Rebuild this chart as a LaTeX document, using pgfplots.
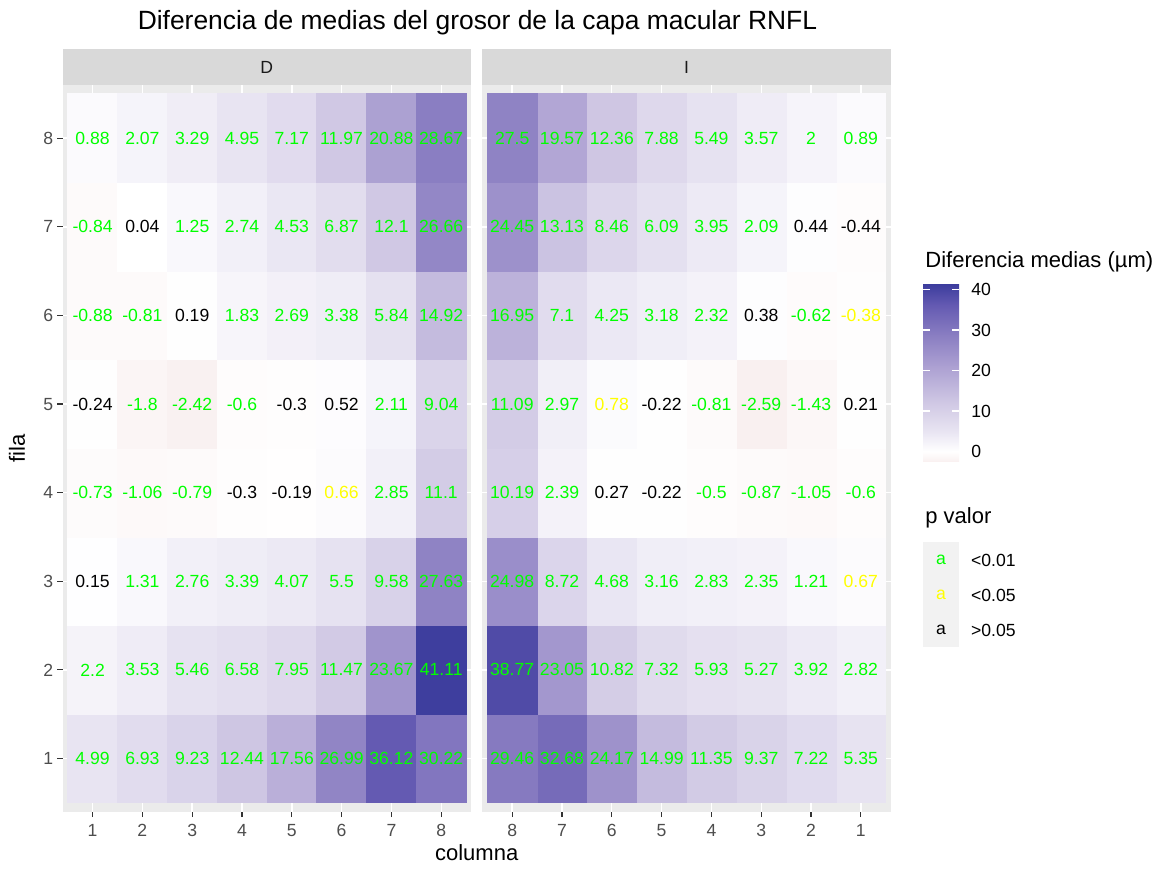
\documentclass[border=0pt]{standalone}
\usepackage{fontspec}
\setmainfont{Liberation Sans}
\usepackage{pgfplots}
\pgfplotsset{compat=1.18}
\usepackage{pgfplotstable}

\definecolor{gray92}{RGB}{235,235,235}
\definecolor{gray85}{RGB}{217,217,217}
\definecolor{gray95}{RGB}{242,242,242}
\definecolor{gray30}{RGB}{77,77,77}
\definecolor{gray20}{RGB}{51,51,51}
\definecolor{gray10}{RGB}{26,26,26}
\definecolor{pgreen}{RGB}{0,255,0}
\definecolor{pyellow}{RGB}{255,255,0}

% escala de color (mismos puntos que el colormap)
\definecolor{cbA}{RGB}{249,240,240}
\definecolor{cbB}{RGB}{255,255,255}
\definecolor{cbC}{RGB}{232,228,242}
\definecolor{cbD}{RGB}{208,200,228}
\definecolor{cbE}{RGB}{172,160,210}
\definecolor{cbF}{RGB}{138,126,194}
\definecolor{cbG}{RGB}{100,90,178}
\definecolor{cbH}{RGB}{62,62,158}
\pgfdeclareverticalshading{cbar}{100bp}{color(0bp)=(cbA); color(25bp)=(cbA);
  color(27.963bp)=(cbB); color(33.684bp)=(cbC); color(41.693bp)=(cbD);
  color(51.991bp)=(cbE); color(60.766bp)=(cbF); color(69.29bp)=(cbG);
  color(75bp)=(cbH); color(100bp)=(cbH)}

% c: 0 = p<0.01, 1 = p<0.05, 2 = p>0.05
\newcommand\pcol[1]{\pgfmathtruncatemacro\pcn{#1}%
  \ifcase\pcn\relax\color{pgreen}\or\color{pyellow}\else\color{black}\fi}

% ojo derecho (D)
\pgfplotstableread{
x y z c
1 1 4.99 0
2 1 6.93 0
3 1 9.23 0
4 1 12.44 0
5 1 17.56 0
6 1 26.99 0
7 1 36.12 0
8 1 30.22 0
1 2 2.2 0
2 2 3.53 0
3 2 5.46 0
4 2 6.58 0
5 2 7.95 0
6 2 11.47 0
7 2 23.67 0
8 2 41.11 0
1 3 0.15 2
2 3 1.31 0
3 3 2.76 0
4 3 3.39 0
5 3 4.07 0
6 3 5.5 0
7 3 9.58 0
8 3 27.63 0
1 4 -0.73 0
2 4 -1.06 0
3 4 -0.79 0
4 4 -0.3 2
5 4 -0.19 2
6 4 0.66 1
7 4 2.85 0
8 4 11.1 0
1 5 -0.24 2
2 5 -1.8 0
3 5 -2.42 0
4 5 -0.6 0
5 5 -0.3 2
6 5 0.52 2
7 5 2.11 0
8 5 9.04 0
1 6 -0.88 0
2 6 -0.81 0
3 6 0.19 2
4 6 1.83 0
5 6 2.69 0
6 6 3.38 0
7 6 5.84 0
8 6 14.92 0
1 7 -0.84 0
2 7 0.04 2
3 7 1.25 0
4 7 2.74 0
5 7 4.53 0
6 7 6.87 0
7 7 12.1 0
8 7 26.66 0
1 8 0.88 0
2 8 2.07 0
3 8 3.29 0
4 8 4.95 0
5 8 7.17 0
6 8 11.97 0
7 8 20.88 0
8 8 28.67 0
}\tabD

% ojo izquierdo (I)
\pgfplotstableread{
x y z c
1 1 5.35 0
2 1 7.22 0
3 1 9.37 0
4 1 11.35 0
5 1 14.99 0
6 1 24.17 0
7 1 32.68 0
8 1 29.46 0
1 2 2.82 0
2 2 3.92 0
3 2 5.27 0
4 2 5.93 0
5 2 7.32 0
6 2 10.82 0
7 2 23.05 0
8 2 38.77 0
1 3 0.67 1
2 3 1.21 0
3 3 2.35 0
4 3 2.83 0
5 3 3.16 0
6 3 4.68 0
7 3 8.72 0
8 3 24.98 0
1 4 -0.6 0
2 4 -1.05 0
3 4 -0.87 0
4 4 -0.5 0
5 4 -0.22 2
6 4 0.27 2
7 4 2.39 0
8 4 10.19 0
1 5 0.21 2
2 5 -1.43 0
3 5 -2.59 0
4 5 -0.81 0
5 5 -0.22 2
6 5 0.78 1
7 5 2.97 0
8 5 11.09 0
1 6 -0.38 1
2 6 -0.62 0
3 6 0.38 2
4 6 2.32 0
5 6 3.18 0
6 6 4.25 0
7 6 7.1 0
8 6 16.95 0
1 7 -0.44 2
2 7 0.44 2
3 7 2.09 0
4 7 3.95 0
5 7 6.09 0
6 7 8.46 0
7 7 13.13 0
8 7 24.45 0
1 8 0.89 0
2 8 2 0
3 8 3.57 0
4 8 5.49 0
5 8 7.88 0
6 8 12.36 0
7 8 19.57 0
8 8 27.5 0
}\tabI

\pgfplotsset{
  colormap={ggpurple}{rgb255(0cm)=(249,240,240) rgb255(0.259cm)=(255,255,255)
    rgb255(0.759cm)=(232,228,242) rgb255(1.459cm)=(208,200,228)
    rgb255(2.359cm)=(172,160,210) rgb255(3.126cm)=(138,126,194)
    rgb255(3.871cm)=(100,90,178) rgb255(4.37cm)=(62,62,158)},
  panel/.style={
    scale only axis, width=204.2pt, height=363.35pt, anchor=south west,
    xmin=0.4, xmax=8.6, ymin=0.4, ymax=8.6,
    xtick={1,...,8}, ytick={1,...,8},
    set layers,
    axis background/.style={fill=gray92},
    grid=major, major grid style={white, line width=0.7pt},
    axis line style={draw=none},
    tick align=outside, major tick length=2.75pt,
    tick style={gray20, line width=0.55pt},
    xtick pos=bottom, ytick pos=left,
    tick label style={font=\fontsize{8.8}{10}\selectfont, text=gray30},
    yticklabel style={xshift=1.5pt},
    /pgf/number format/assume math mode=true,
    colormap name=ggpurple, point meta min=-2.59, point meta max=41.11,
  },
  tiles/.style={matrix plot*, mesh/cols=8, point meta=explicit},
  labs/.style={only marks, mark=none, point meta=explicit symbolic,
    visualization depends on={\thisrow{c} \as \pc},
    nodes near coords={\pcol{\pc}\pgfplotspointmeta},
    nodes near coords align=center,
    every node near coord/.append style={anchor=center, inner sep=0pt,
      font=\fontsize{8.8}{10}\selectfont}},
}

\begin{document}
\begin{tikzpicture}

\begin{axis}[panel, at={(31.35pt,28.15pt)}]
\addplot[tiles] table[x=x, y=y, meta=z] {\tabD};
\addplot[labs] table[x=x, y=y, meta=z] {\tabD};
\end{axis}

\begin{axis}[panel, at={(241.15pt,28.15pt)}, x dir=reverse,
  yticklabels={}, ytick style={draw=none}]
\addplot[tiles] table[x=x, y=y, meta=z] {\tabI};
\addplot[labs] table[x=x, y=y, meta=z] {\tabI};
\end{axis}

% barra de color
\begin{axis}[at={(461.5pt,203pt)}, anchor=south west,
  scale only axis, width=18pt, height=88.5pt,
  xmin=0, xmax=1, ymin=-2.59, ymax=41.11,
  xtick=\empty, ytick={0,10,20,30,40},
  axis line style={draw=none},
  axis background/.style={shade, shading=cbar},
  tick align=inside, ytick pos=both, yticklabel pos=right,
  major tick length=3.6pt, ytick style={white, line width=0.6pt},
  yticklabel style={font=\fontsize{8.8}{10}\selectfont, text=black, xshift=2.6pt},
  /pgf/number format/assume math mode=true]
\end{axis}

% strips
\fill[gray85] (31.35pt,391.5pt) rectangle (235.35pt,409.5pt);
\fill[gray85] (241.15pt,391.5pt) rectangle (445.35pt,409.5pt);
\node[text=gray10, font=\fontsize{8.8}{10}\selectfont] at (133.35pt,400.5pt) {D};
\node[text=gray10, font=\fontsize{8.8}{10}\selectfont] at (343.25pt,400.5pt) {I};

% titulos
\node[anchor=base, font=\fontsize{13.2}{15}\selectfont] at (238.75pt,419pt)
  {Diferencia de medias del grosor de la capa macular RNFL};
\node[anchor=base, font=\fontsize{11}{13}\selectfont] at (238.35pt,4pt) {columna};
\node[rotate=90, font=\fontsize{11}{13}\selectfont] at (8.5pt,209.8pt) {fila};

% leyendas
\node[anchor=west, inner sep=0pt, font=\fontsize{11}{13}\selectfont] at (462.5pt,303pt)
  {Diferencia medias (µm)};
\node[anchor=west, inner sep=0pt, font=\fontsize{11}{13}\selectfont] at (462.5pt,175pt)
  {p valor};
\fill[gray95] (461.5pt,110.5pt) rectangle (479.5pt,163pt);
\foreach \yy/\cc/\tt in {154/pgreen/{<0.01}, 136.5/pyellow/{<0.05}, 119/black/{>0.05}} {
  \node[text=\cc, font=\fontsize{8.8}{10}\selectfont] at (470.5pt,\yy pt) {a};
  \node[anchor=west, inner sep=0pt, font=\fontsize{8.8}{10}\selectfont] at (485.35pt,\yy pt) {\tt};
}

\pgfresetboundingbox
\path[use as bounding box] (0,0) rectangle (581pt,434pt);
\end{tikzpicture}
\end{document}
